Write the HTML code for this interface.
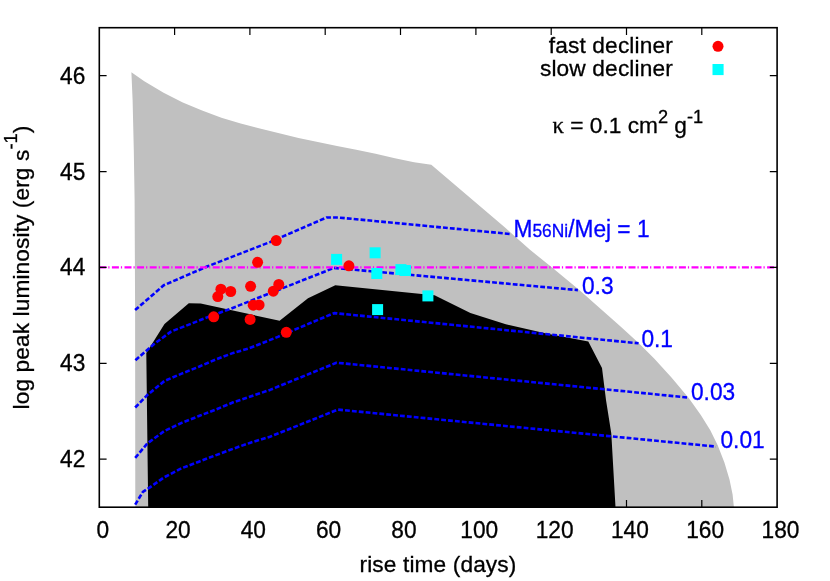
<!DOCTYPE html>
<html><head><meta charset="utf-8">
<style>
html,body{margin:0;padding:0;background:#fff;}
body{width:830px;height:581px;overflow:hidden;}
svg{display:block;}
text{font-family:"Liberation Sans",sans-serif;font-size:22.7px;fill:#000;stroke:#000;stroke-width:0.3px;}
.b{fill:#0000ff;stroke:#0000ff;}
.d{fill:none;stroke:#0000ff;stroke-width:2.6;stroke-dasharray:4.8 2.1;stroke-linejoin:round;}
</style></head><body>
<svg width="830" height="581" viewBox="0 0 830 581" style="will-change:transform">
<rect width="830" height="581" fill="#fff"/>
<!-- gray region -->
<path fill="#c0c0c0" d="M131.4,72.2 L144.3,81.2 L163.6,92.8 L182.8,102.4 L202.1,110.5 L221.4,117.8 L240.7,123.6 L259.9,128.6 L279.2,133.2 L298.5,137.9 L317.8,142.1 L337,146 L356.3,149.8 L375.6,153.7 L394.9,158.3 L414.1,162.2 L431.3,164.7 L505,227.5 L530,249.8 L552.4,267.8 L579.9,290.5 L598.8,307.3 L620,326 L638.9,343.2 L654.4,358.7 L671.7,377.7 L688.9,398.3 L700.8,415.1 L710.3,430.3 L717.8,445.4 L724.4,462.4 L729.5,479.4 L732.6,494.6 L733.9,507.2 L135.3,507.2 L135.1,310 L134.6,200 L133.8,150 L132.6,100 Z"/>
<!-- black region -->
<path fill="#000" d="M148.2,507.2 L146.3,353 L164.5,324 L188.8,303.2 L200.7,303.6 L279.6,320.7 L308,298.3 L335.3,285.2 L421.8,294 L434.5,295.3 L470.4,312.9 L505.8,324.3 L546.3,333.6 L588.3,341.5 L602,368 L606,400 L611.3,433.6 L615.5,507.2 Z"/>
<!-- dashed lines -->
<path class="d" d="M135.1,310.1 L163.7,285.3 L207.6,266.3 L270,242.1 L326.6,217.5 L338,217.5 L510.4,234"/>
<path class="d" d="M135.4,360.2 L154.1,344 L171,331.6 L190.2,324.1 L208.3,316.9 L230,309 L334,267.9 L577.9,290.1"/>
<path class="d" d="M135.2,407.5 L147.2,395.1 L164.4,381 L181.7,373.6 L198.9,366.7 L216.1,359.3 L233.3,352.9 L248.9,348.4 L277.8,336.9 L306.7,324.6 L334.2,313.1 L638.6,343.3"/>
<path class="d" d="M135.2,457.9 L147.2,443.6 L164.4,431 L181.7,422.9 L198.9,416 L216.1,409.4 L233.3,402.3 L250.5,396.5 L270,389.9 L336.5,362.7 L687.5,397.5"/>
<path class="d" d="M135.2,504.7 L142.9,491.8 L147.2,489.2 L164.4,477.2 L181.7,468.2 L198.9,461.7 L216.1,455.1 L233.3,448.7 L250.5,442.7 L270,436.7 L337.9,409.6 L716,446.6"/>
<!-- magenta line -->
<path d="M99.3,267.4 L777.1,267.4" fill="none" stroke="#ff00ff" stroke-width="2.4" stroke-dasharray="7 2 1.2 2.4"/>
<!-- red dots -->
<g fill="#ff0000">
<circle cx="276.2" cy="240.6" r="5.5"/><circle cx="257.6" cy="262.3" r="5.5"/><circle cx="220.9" cy="289.2" r="5.5"/>
<circle cx="230.7" cy="291.5" r="5.5"/><circle cx="217.8" cy="296.6" r="5.5"/><circle cx="250.6" cy="286.3" r="5.5"/>
<circle cx="278.8" cy="284.5" r="5.5"/><circle cx="273.3" cy="291.2" r="5.5"/><circle cx="253.2" cy="305.2" r="5.5"/>
<circle cx="259.1" cy="304.9" r="5.5"/><circle cx="213.7" cy="316.8" r="5.5"/><circle cx="250.1" cy="319.4" r="5.5"/>
<circle cx="286.3" cy="332.3" r="5.5"/><circle cx="348.9" cy="265.8" r="5.5"/>
<circle cx="718" cy="46.3" r="5.5"/>
</g>
<!-- cyan squares -->
<g fill="#00ffff">
<rect x="331.1" y="253.9" width="11" height="11"/>
<rect x="369.6" y="247.3" width="11" height="11"/>
<rect x="371.3" y="268" width="11" height="11"/>
<rect x="395.4" y="264.1" width="11" height="11"/>
<rect x="400" y="265" width="11" height="11"/>
<rect x="422.4" y="290.4" width="11" height="11"/>
<rect x="372.1" y="304.1" width="11" height="11"/>
<rect x="712.5" y="64" width="11.1" height="11.1"/>
</g>
<!-- frame and ticks -->
<g fill="none" stroke="#000" stroke-width="1.2">
<path d="M174.6,507.2v-7.3M249.9,507.2v-7.3M325.2,507.2v-7.3M400.5,507.2v-7.3M475.9,507.2v-7.3M551.2,507.2v-7.3M626.5,507.2v-7.3M701.8,507.2v-7.3"/>
<path d="M174.6,27.7v7.3M249.9,27.7v7.3M325.2,27.7v7.3M400.5,27.7v7.3M475.9,27.7v7.3M551.2,27.7v7.3M626.5,27.7v7.3M701.8,27.7v7.3"/>
<path d="M99.3,459.2h7.3M99.3,363.4h7.3M99.3,267.4h7.3M99.3,171.6h7.3M99.3,75.6h7.3"/>
<path d="M777.1,459.2h-7.3M777.1,363.4h-7.3M777.1,267.4h-7.3M777.1,171.6h-7.3M777.1,75.6h-7.3"/>
<rect x="99.3" y="27.7" width="677.8" height="479.5" stroke-width="1.6"/>
</g>
<!-- x tick labels -->
<g text-anchor="middle" transform="translate(0,538.2) scale(1,1.03)">
<text x="102.7" y="0">0</text><text x="178.0" y="0">20</text><text x="253.3" y="0">40</text><text x="328.6" y="0">60</text><text x="403.9" y="0">80</text><text x="479.3" y="0">100</text><text x="554.6" y="0">120</text><text x="629.9" y="0">140</text><text x="705.2" y="0">160</text><text x="780.5" y="0">180</text>
</g>
<!-- y tick labels -->
<g text-anchor="end">
<text transform="translate(85.3,467.1) scale(1,1.03)">42</text><text transform="translate(85.3,371.2) scale(1,1.03)">43</text><text transform="translate(85.3,275.3) scale(1,1.03)">44</text><text transform="translate(85.3,179.5) scale(1,1.03)">45</text><text transform="translate(85.3,83.5) scale(1,1.03)">46</text>
</g>
<text x="438" y="572" text-anchor="middle" letter-spacing="0.12">rise time (days)</text>
<text transform="translate(28.6,267.5) rotate(-90)" text-anchor="middle" letter-spacing="0.1">log peak luminosity (erg s<tspan font-size="18.2" dy="-11.5">-1</tspan><tspan dy="11.5">)</tspan></text>
<!-- legend -->
<text x="673" y="52.8" text-anchor="end" letter-spacing="0.15">fast decliner</text>
<text x="673" y="76.4" text-anchor="end" letter-spacing="0.15">slow decliner</text>
<text x="552.5" y="132.8"><tspan font-family="Liberation Serif" >κ</tspan> = 0.1 cm<tspan font-size="18.2" dy="-10.3">2</tspan><tspan dy="10.3"> g</tspan><tspan font-size="18.2" dy="-10.3">-1</tspan></text>
<!-- line labels -->
<text class="b" transform="translate(513.5,236.6) scale(1,1.03)">M<tspan font-size="17.4">56Ni</tspan>/Mej = 1</text>
<text class="b" transform="translate(582,293.5) scale(1,1.03)">0.3</text>
<text class="b" transform="translate(641.4,347.2) scale(1,1.03)">0.1</text>
<text class="b" transform="translate(691,400.3) scale(1,1.03)">0.03</text>
<text class="b" transform="translate(720.5,447.8) scale(1,1.03)">0.01</text>
</svg>
</body></html>
